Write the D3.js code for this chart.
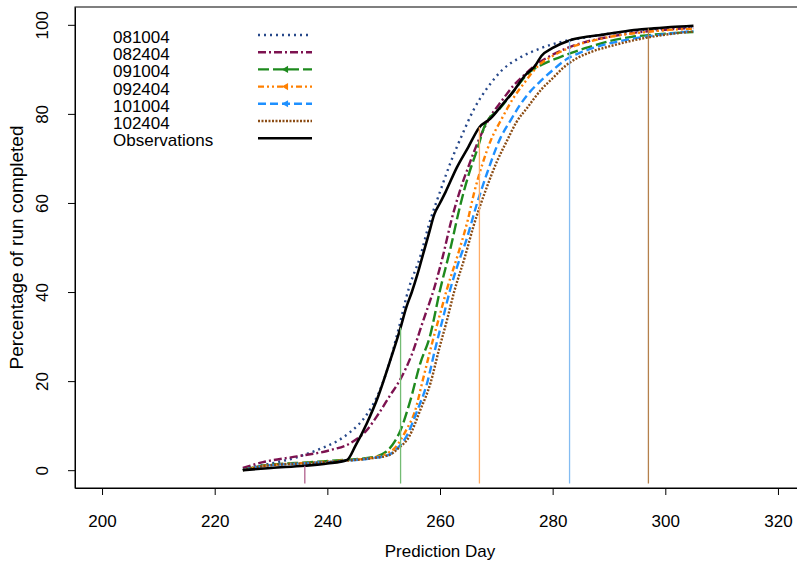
<!DOCTYPE html>
<html>
<head>
<meta charset="utf-8">
<script src="https://cdn.jsdelivr.net/npm/d3@7"></script>
<style>
  body { margin: 0; background: #fff; }
  svg { display: block; }
  text { font-family: "Liberation Sans", Arial, sans-serif; fill: #000; }
</style>
</head>
<body>
<div id="chart"></div>
<script>
const W = 797, H = 567;

// [day, percent] pairs
const obs = [[225,0],[230,0.5],[236,1],[240,1.5],[243.5,2.3],[245,5.5],[247,10.5],[249,16.5],[251,24],[253,32],
  [254,36.5],[255,40],[256,44],[257,48.5],[258,53],[259,57.5],[260,60],[261,62.5],[263,68],[265,72.5],[267,77],
  [269,79],[271,82],[273,85],[275,88.5],[277,91],[278,93],[280,94.8],[283,96.5],[286,97.3],[289,97.8],[292,98.4],
  [295,98.9],[298,99.2],[301,99.5],[305,99.8]];
const s081004 = [[225,0.3],[230,1.5],[234.6,2.9],[238.7,4.8],[241.7,6.5],[244,8.5],[247,12.5],[249,17],[251,24],
  [252.5,31],[254.5,41],[256.5,48],[258,55],[260,62.5],[262,69.5],[264,75.5],[266,81],[268.5,86],[271,89.8],[274,92.5],
  [278,94.8],[282,96.3],[286,97.2],[290,98],[295,98.7],[300,99.2],[305,99.5]];
const s082404 = [[225,0.5],[228.6,1.8],[234.6,3.1],[240.5,4.5],[244,6],[247,9],[249,12.5],[251,16.5],[253,20.5],
  [255,26],[257,33.5],[259,41],[260.5,48],[262,56],[263.6,63],[265,68],[267,74.5],[269,79.5],[271,83],[273,86.3],
  [275,88.8],[277,91],[280,93.3],[283,95],[286,96.2],[290,97.3],[295,98.3],[300,98.9],[305,99.3]];
const s091004 = [[225,0],[229,1.1],[237,1.8],[243,2.3],[248,2.9],[250.5,4.2],[252,6.5],[253,9],[254.7,15.5],
  [256.5,24],[258.2,30],[260,40.4],[261.8,49.5],[263.6,59.5],[265,66],[266.6,72],[268,77.5],[270.7,81.3],[273,85],
  [276,89.5],[278,91],[281,92.6],[284,94],[287,95.2],[290,96.3],[294,97.3],[298,97.8],[302,98.2],[305,98.4]];
const s092404 = [[225,0],[229,1],[237,1.7],[243,2.2],[248,2.8],[250.5,3.7],[252,5],[254,9],[255.5,13],[257,20.5],
  [258.8,29.5],[260,35],[261.2,40.5],[263.2,48.5],[265,56.5],[266,62],[267.6,69],[269,74],[271,79],[273,83.5],
  [275,87],[277.2,90.5],[280,93],[284,95.3],[288,96.7],[292,97.7],[296,98.3],[300,98.8],[305,99.1]];
const s101004 = [[225,0],[229,1],[237,1.6],[243,2.1],[248,2.7],[251,3.5],[252.5,5],[254,7.5],[256,13.5],[257.7,19.5],
  [259.1,27],[260.5,34],[261.8,40.5],[263.6,47.8],[264.5,51],[266.6,60],[268.3,66.5],[270.7,74.5],[272.5,78.5],
  [274.2,82],[276,85],[277.8,87.3],[280,89.8],[282.5,92.3],[285,93.8],[287.2,94.8],[290,95.8],[294.3,96.9],
  [298,97.6],[302,98.2],[305,98.6]];
const s102404 = [[225,0],[229,1],[237,1.6],[243,2.1],[248,2.7],[251,3.4],[252.5,4.8],[254.5,7.5],[256.5,13.5],
  [258.3,19.5],[259.8,27],[261.3,34],[262.5,40],[264.4,47.8],[266,55],[268.3,63.5],[270,69],[271.9,74],[273.5,78],
  [275.5,81.4],[278,85.5],[280,88],[282,90.5],[284.3,92.5],[287,94],[290.2,95.2],[294.3,96.5],[298,97.4],
  [302,98.1],[305,98.5]];

const seriesNames = ["081004", "082404", "091004", "092404", "101004", "102404", "Observations"];
const seriesData = [s081004, s082404, s091004, s092404, s101004, s102404, obs];
const seriesColors = ["#27488a", "#7d1250", "#1e8a1e", "#ff8000", "#1e90ff", "#8b4c14", "#000000"];
const seriesDash = ["2,4", "8,3,2,3", "11,4", "6,3,2,3,2,3", "8,4", "2,1.5", null];
const legendMark = [false, false, true, true, true, false, false];

// prediction days marked with vertical segments
const predDays = [236, 253, 267, 283, 297];
const predTops = [1, 32, 77, 96.4, 99.2];
const predColors = ["#b0608c", "#74bc74", "#ffac66", "#84bcf2", "#b4804c"];

const xTicks = [200, 220, 240, 260, 280, 300, 320];
const yTicks = [0, 20, 40, 60, 80, 100];

const svg = d3.select("#chart").append("svg").attr("width", W).attr("height", H);

const x = d3.scaleLinear().domain([195.2, 324.8]).range([75, 805]);
const y = d3.scaleLinear().domain([-4, 104]).range([488, 7]);

// box
svg.append("rect")
    .attr("x", x.range()[0]).attr("y", y.range()[1])
    .attr("width", x.range()[1] - x.range()[0]).attr("height", y.range()[0] - y.range()[1])
    .attr("fill", "none").attr("stroke", "#000").attr("stroke-width", 1);

// axes
const xAxis = svg.append("g")
    .attr("transform", `translate(0,${y.range()[0]})`)
    .call(d3.axisBottom(x).tickValues(xTicks).tickSize(7).tickSizeOuter(0).tickPadding(20));
const yAxis = svg.append("g")
    .attr("transform", `translate(${x.range()[0]},0)`)
    .call(d3.axisLeft(y).tickValues(yTicks).tickSize(7).tickSizeOuter(0));
[xAxis, yAxis].forEach(function (g) {
    g.selectAll("text").style("font-size", "17px").attr("fill", "#000");
    g.selectAll("line").attr("stroke", "#000");
    g.select(".domain").attr("stroke", "#000");
});
yAxis.selectAll(".tick text")
    .attr("transform", "rotate(-90)")
    .attr("x", 0).attr("y", -33)
    .attr("dy", "0.35em")
    .attr("text-anchor", "middle");

svg.append("text")
    .attr("x", x(260)).attr("y", 557)
    .attr("text-anchor", "middle").style("font-size", "17px")
    .text("Prediction Day");
svg.append("text")
    .attr("transform", `translate(23,${(y.range()[0] + y.range()[1]) / 2}) rotate(-90)`)
    .attr("text-anchor", "middle").style("font-size", "19px")
    .text("Percentage of run completed");

// curves
const line = d3.line()
    .x(function (d) { return x(d[0]); })
    .y(function (d) { return y(d[1]); })
    .curve(d3.curveMonotoneX);

seriesData.forEach(function (data, i) {
    svg.append("path")
        .datum(data)
        .attr("d", line)
        .attr("fill", "none")
        .attr("stroke", seriesColors[i])
        .attr("stroke-width", i === 6 ? 2.6 : 2.4)
        .attr("stroke-dasharray", seriesDash[i]);
});

// vertical segments
svg.selectAll(".pred")
    .data(predDays)
    .enter().append("line")
    .attr("class", "pred")
    .attr("x1", function (d) { return x(d); })
    .attr("x2", function (d) { return x(d); })
    .attr("y1", y(-3))
    .attr("y2", function (d, i) { return y(predTops[i]); })
    .attr("stroke", function (d, i) { return predColors[i]; })
    .attr("stroke-width", 1.3);

// legend
const legend = svg.append("g");
seriesNames.forEach(function (name, i) {
    const cy = 37 + i * 17.2;
    legend.append("text")
        .attr("x", 113).attr("y", cy + 6)
        .style("font-size", "17px")
        .text(name);
    legend.append("line")
        .attr("x1", 258).attr("x2", 312)
        .attr("y1", cy - 2).attr("y2", cy - 2)
        .attr("stroke", seriesColors[i])
        .attr("stroke-width", 2.4)
        .attr("stroke-dasharray", seriesDash[i]);
    if (legendMark[i]) {
        legend.append("path")
            .attr("d", d3.symbol(d3.symbolTriangle, 22)())
            .attr("transform", `translate(286,${cy - 2}) rotate(-90)`)
            .attr("fill", seriesColors[i]);
    }
});
</script>
</body>
</html>
